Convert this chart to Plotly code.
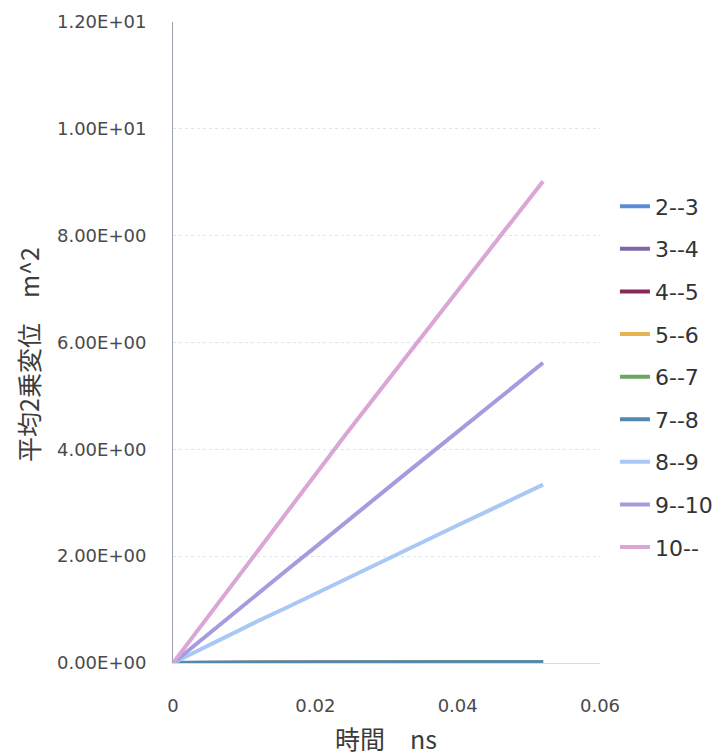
import plotly.graph_objects as go

# time axis (ns)
time_ns = [0.0, 0.004, 0.008, 0.012, 0.016, 0.020, 0.024, 0.028, 0.032, 0.036, 0.040, 0.044, 0.048, 0.052]

series_names = ["2--3", "3--4", "4--5", "5--6", "6--7", "7--8", "8--9", "9--10", "10--"]

# mean square displacement (m^2)
msd_2_3 = [0.0, 0.001, 0.002, 0.003, 0.004, 0.005, 0.006, 0.007, 0.008, 0.009, 0.010, 0.011, 0.012, 0.013]
msd_3_4 = [0.0, 0.001, 0.002, 0.003, 0.004, 0.005, 0.006, 0.007, 0.008, 0.009, 0.010, 0.011, 0.012, 0.013]
msd_4_5 = [0.0, 0.001, 0.002, 0.003, 0.004, 0.005, 0.006, 0.007, 0.008, 0.009, 0.010, 0.011, 0.012, 0.014]
msd_5_6 = [0.0, 0.001, 0.002, 0.003, 0.004, 0.005, 0.006, 0.007, 0.008, 0.009, 0.010, 0.012, 0.013, 0.014]
msd_6_7 = [0.0, 0.001, 0.002, 0.003, 0.004, 0.005, 0.006, 0.007, 0.009, 0.010, 0.011, 0.012, 0.013, 0.014]
msd_7_8 = [0.0, 0.001, 0.002, 0.003, 0.004, 0.005, 0.007, 0.008, 0.009, 0.010, 0.011, 0.012, 0.013, 0.015]
msd_8_9 = [0.0, 0.27, 0.53, 0.79, 1.04, 1.30, 1.56, 1.81, 2.07, 2.32, 2.58, 2.83, 3.08, 3.34]
msd_9_10 = [0.0, 0.44, 0.88, 1.31, 1.74, 2.17, 2.61, 3.04, 3.47, 3.90, 4.33, 4.76, 5.19, 5.62]
msd_10 = [0.0, 0.71, 1.42, 2.13, 2.83, 3.53, 4.23, 4.92, 5.60, 6.28, 6.96, 7.64, 8.32, 9.02]

series_values = [msd_2_3, msd_3_4, msd_4_5, msd_5_6, msd_6_7, msd_7_8, msd_8_9, msd_9_10, msd_10]
series_colors = ["#5b8bd9", "#7e66ad", "#8a2a5c", "#e6b552", "#6ca462", "#5189b0",
                 "#a9c8f6", "#a79be0", "#d9a6d6"]

y_tick_vals = [0, 2, 4, 6, 8, 10, 12]
y_tick_text = ["0.00E+00", "2.00E+00", "4.00E+00", "6.00E+00", "8.00E+00", "1.00E+01", "1.20E+01"]
x_tick_vals = [0, 0.02, 0.04, 0.06]
x_tick_text = ["0", "0.02", "0.04", "0.06"]

x_title = "時間　ns"
y_title = "平均2乗変位　m^2"

W, H = 728, 756
ML, MR, MT, MB = 173, 128, 22, 93

fig = go.Figure()
for name, vals, col in zip(series_names, series_values, series_colors):
    fig.add_trace(go.Scatter(
        x=time_ns, y=vals, name=name, mode="lines",
        line=dict(color=col, width=4), legendgroup=name,
    ))

tick_font = dict(family="DejaVu Sans, sans-serif", size=18, color="#4a4a4a")
cjk = "Noto Sans CJK JP, sans-serif"

fig.update_layout(
    width=W, height=H,
    margin=dict(l=ML, r=MR, t=MT, b=MB, autoexpand=False),
    paper_bgcolor="white", plot_bgcolor="white",
    showlegend=True,
    legend=dict(
        x=1.035, xanchor="left", y=0.745, yanchor="top",
        font=dict(family="DejaVu Sans, sans-serif", size=22, color="#333333"),
        tracegroupgap=11, itemwidth=30, bgcolor="rgba(0,0,0,0)",
    ),
    xaxis=dict(
        range=[0, 0.06], tickvals=x_tick_vals, ticktext=x_tick_text,
        tickfont=tick_font, showgrid=False, zeroline=False,
        showline=True, linecolor="#d5dde8", linewidth=1,
        ticks="", ticklabelstandoff=26,
    ),
    yaxis=dict(
        range=[0, 12], tickvals=y_tick_vals, ticktext=y_tick_text,
        tickfont=tick_font, showgrid=True, gridcolor="#d8e6f4", griddash="dot", gridwidth=1,
        zeroline=False, showline=True, linecolor="#9aa0aa", linewidth=1,
        ticks="", ticklabelstandoff=22,
    ),
    annotations=[
        dict(text=x_title, xref="paper", yref="paper",
             x=(386 - ML) / (W - ML - MR), y=-(738 - (H - MB)) / (H - MT - MB),
             xanchor="center", yanchor="middle", showarrow=False,
             font=dict(family=cjk, size=25, color="#3c3c3c")),
        dict(text=y_title, xref="paper", yref="paper", textangle=-90,
             x=-(ML - 28) / (W - ML - MR), y=(H - MB - 355) / (H - MT - MB),
             xanchor="center", yanchor="middle", showarrow=False,
             font=dict(family=cjk, size=25, color="#3c3c3c")),
    ],
)

fig.write_html("out.html")
